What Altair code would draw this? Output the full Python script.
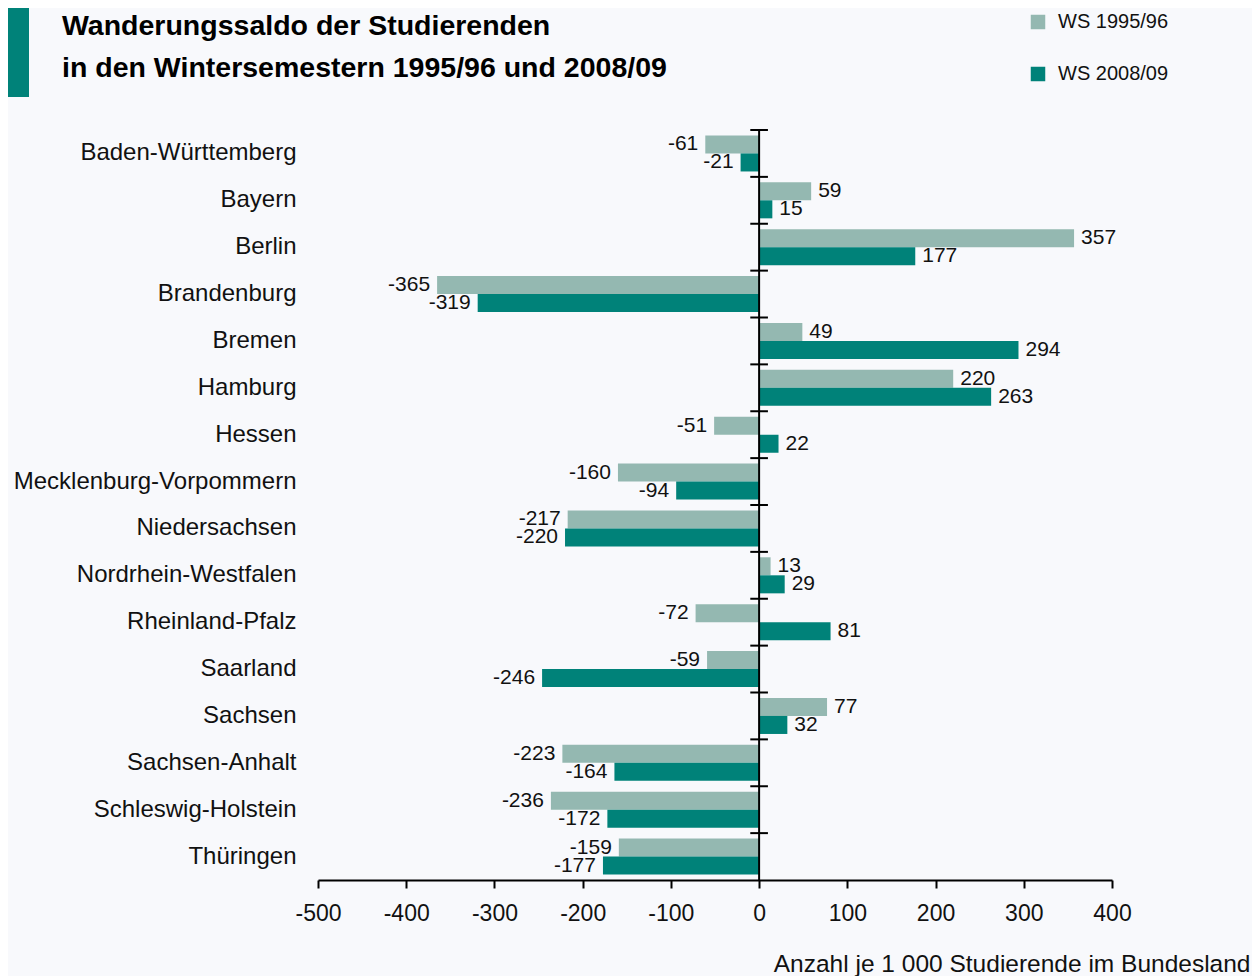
import altair as alt
import pandas as pd

states = [
    "Baden-Württemberg", "Bayern", "Berlin", "Brandenburg", "Bremen", "Hamburg",
    "Hessen", "Mecklenburg-Vorpommern", "Niedersachsen", "Nordrhein-Westfalen",
    "Rheinland-Pfalz", "Saarland", "Sachsen", "Sachsen-Anhalt",
    "Schleswig-Holstein", "Thüringen",
]
series = ["WS 1995/96", "WS 2008/09"]
ws1995 = [-61, 59, 357, -365, 49, 220, -51, -160, -217, 13, -72, -59, 77, -223, -236, -159]
ws2008 = [-21, 15, 177, -319, 294, 263, 22, -94, -220, 29, 81, -246, 32, -164, -172, -177]
x_ticks = [-500, -400, -300, -200, -100, 0, 100, 200, 300, 400]
title_lines = ["Wanderungssaldo der Studierenden", "in den Wintersemestern 1995/96 und 2008/09"]
colors = ["#94B8B1", "#008279"]

rows = []
for s, a, b in zip(states, ws1995, ws2008):
    rows.append({"state": s, "series": series[0], "value": a})
    rows.append({"state": s, "series": series[1], "value": b})
df = pd.DataFrame(rows)
df_states = pd.DataFrame({"state": states})
df_zero = pd.DataFrame({"x": [0]})
df_t1 = pd.DataFrame({"t": [title_lines[0]]})
df_t2 = pd.DataFrame({"t": [title_lines[1]]})

FONT = "Liberation Sans"
INK = "#111111"

y_enc = alt.Y("state:N", sort=states,
              scale=alt.Scale(paddingInner=0, paddingOuter=0),
              axis=alt.Axis(title=None, domain=False, ticks=False, labelPadding=22,
                            labelFontSize=24, labelColor=INK, labelFont=FONT,
                            labelLimit=400))
x_scale = alt.Scale(domain=[-500, 400], nice=False, zero=False)
x_axis = alt.Axis(values=x_ticks, grid=False, domainColor="black", domainWidth=2,
                  tickColor="black", tickWidth=2, tickSize=8, labelFontSize=23,
                  labelPadding=14, labelFont=FONT, labelColor=INK, labelFlush=False,
                  labelExpr="datum.value + ''",
                  title="Anzahl je 1 000 Studierende im Bundesland",
                  titleFont=FONT, titleFontSize=24.5, titleFontWeight="normal",
                  titleColor=INK, titleX=932, titleY=91, titleAlign="right",
                  titleBaseline="alphabetic", titleAnchor="end")

bars = alt.Chart(df).mark_bar().encode(
    x=alt.X("value:Q", scale=x_scale, axis=x_axis),
    y=y_enc,
    yOffset=alt.YOffset("series:N", sort=series,
                        scale=alt.Scale(paddingInner=0, paddingOuter=0.3)),
    color=alt.Color("series:N", sort=series,
                    scale=alt.Scale(domain=series, range=colors),
                    legend=alt.Legend(title=None, orient="none", legendX=710, legendY=-118,
                                      symbolType="square", symbolSize=210,
                                      symbolStrokeWidth=0, labelFontSize=20,
                                      labelFont=FONT, labelColor=INK,
                                      labelOffset=10, rowPadding=32, labelLimit=300)),
)

def value_text(cond, align, dx):
    return alt.Chart(df).transform_filter(cond).transform_calculate(
        label="datum.value + ''"
    ).mark_text(
        align=align, baseline="middle", dx=dx, fontSize=21, font=FONT, color=INK
    ).encode(
        x=alt.X("value:Q", scale=x_scale),
        y=alt.Y("state:N", sort=states),
        yOffset=alt.YOffset("series:N", sort=series),
        text="label:N",
    )

pos_text = value_text("datum.value >= 0", "left", 7)
neg_text = value_text("datum.value < 0", "right", -7)

zero_line = alt.Chart(df_zero).mark_rule(color="black", strokeWidth=2).encode(
    x=alt.X("x:Q", scale=x_scale)
)

ticks = alt.Chart(df_states).mark_rule(color="black", strokeWidth=2).encode(
    y=alt.Y("state:N", sort=states, bandPosition=0),
    x=alt.datum(-10),
    x2=alt.datum(10),
)

accent = alt.Chart(df_zero).mark_rect(color="#008279").encode(
    x=alt.value(-313), x2=alt.value(-289), y=alt.value(-130), y2=alt.value(-33)
)

title1 = alt.Chart(df_t1).mark_text(
    align="left", baseline="middle", font=FONT, fontSize=28.5, fontWeight="bold", color="black"
).encode(text="t:N", x=alt.value(-256), y=alt.value(-104))
title2 = alt.Chart(df_t2).mark_text(
    align="left", baseline="middle", font=FONT, fontSize=28.5, fontWeight="bold", color="black"
).encode(text="t:N", x=alt.value(-256), y=alt.value(-62))

chart = alt.layer(accent, title1, title2, bars, zero_line, ticks, pos_text, neg_text).properties(
    width=794,
    height=750,
    padding={"left": 310, "top": 122, "right": 140, "bottom": 96},
    autosize=alt.AutoSizeParams(type="none"),
    background="#F8F9FC",
).configure_view(stroke=None)

chart.save("out.html", embed_options={"renderer": "svg", "actions": False})
